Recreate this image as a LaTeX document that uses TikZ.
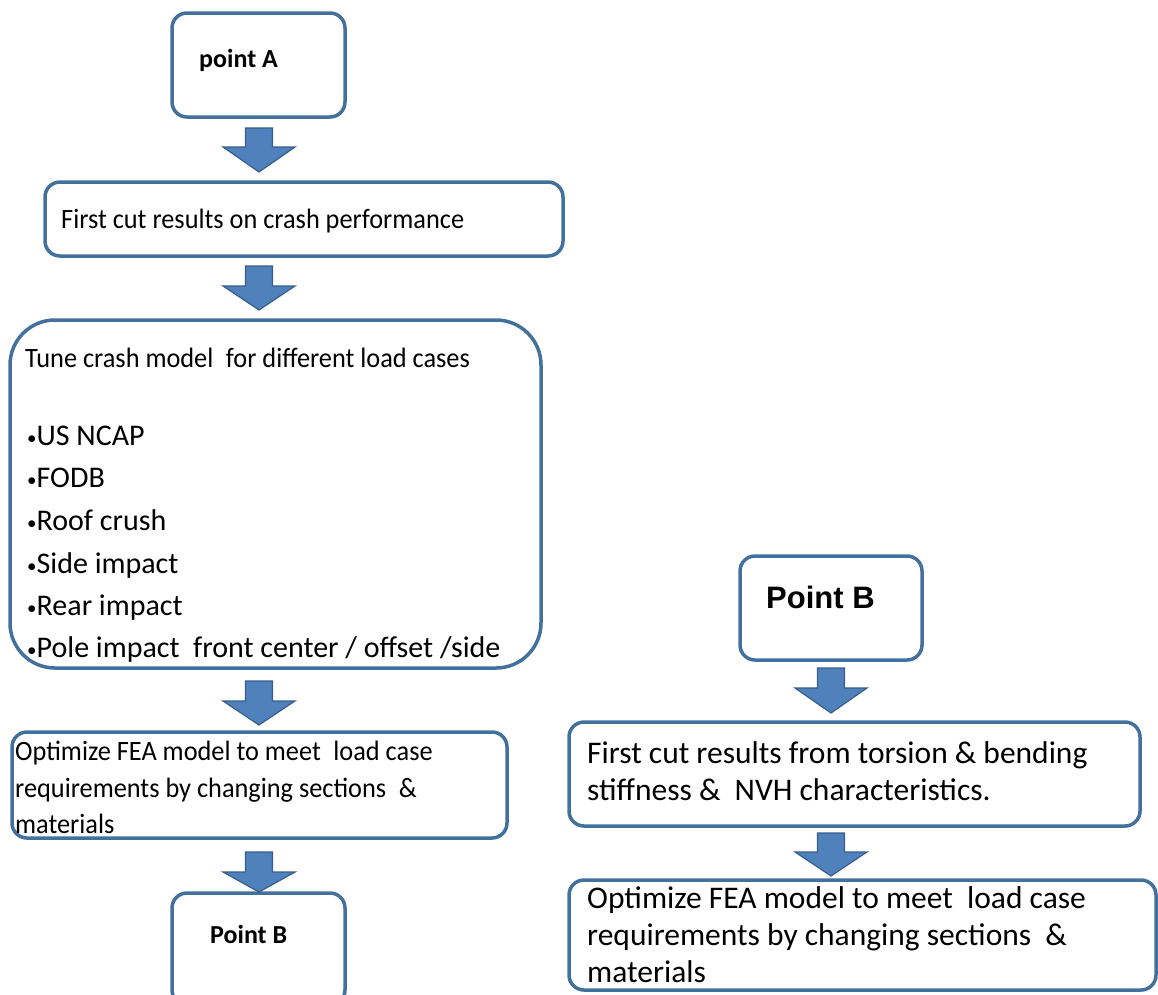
\documentclass[tikz,border=0pt]{standalone}
\usepackage{fontspec}
\setmainfont{Carlito}
\newfontfamily\cfn[FakeStretch=0.94]{Carlito}
\newfontfamily\cfw{Carlito}
\newfontfamily\arb{Liberation Sans}
\definecolor{boxline}{HTML}{41719C}
\definecolor{arrfill}{HTML}{4F81BD}
\definecolor{arrline}{HTML}{385D8A}
\newcommand{\smbul}{\raisebox{0.5pt}{\fontsize{19}{19}\selectfont•}}
\newcommand{\dsp}{\hspace{0.45em}}
\tikzset{
  box/.style={draw=boxline, line width=3.5pt, rounded corners=15pt, fill=white, inner sep=0pt},
  txt/.style={anchor=base west, inner sep=0pt, text=black},
  blockarr/.style={fill=arrfill, draw=arrline, line width=1.2pt, line join=miter}
}
\newcommand{\barrow}[4]{%
  \draw[blockarr] (#1-13.5,#2) -- (#1+13.5,#2) -- (#1+13.5,#3) -- (#1+36,#3) -- (#1,#4) -- (#1-36,#3) -- (#1-13.5,#3) -- cycle;}
\begin{document}
\begin{tikzpicture}[x=1pt,y=-1pt]
\useasboundingbox (0,0) rectangle (1158,994);
\clip (0,0) rectangle (1158,994);
% left column boxes
\node[box, minimum width=173pt, minimum height=104pt] (A) at (258.5,65) {};
\node[box, minimum width=518pt, minimum height=74pt] (B) at (304,219) {};
\node[box, rounded corners=45pt, minimum width=531pt, minimum height=348pt] (C) at (275.5,494) {};
\node[box, minimum width=495pt, minimum height=106pt] (D) at (259.5,785) {};
\node[box, minimum width=173pt, minimum height=112pt] (E) at (258.5,949) {};
% right column boxes
\node[box, minimum width=182pt, minimum height=104pt] (F) at (831,608) {};
\node[box, minimum width=571pt, minimum height=104pt] (G) at (854.5,774) {};
\node[box, minimum width=587pt, minimum height=110pt] (H) at (862.5,935) {};
% block arrows
\barrow{259}{128}{147}{172}
\barrow{259}{266}{286}{310}
\barrow{259}{681}{701}{725}
\barrow{259}{852}{872}{892}
\barrow{831}{668}{688}{713}
\barrow{831}{833}{852}{876}
% texts
\node[txt, font=\fontsize{26}{30}\selectfont\bfseries] (tA) at (199,67) {point A};
\node[txt, font=\cfn\fontsize{28}{34}\selectfont] (tB) at (61,228) {First cut results on crash performance};
\node[txt, font=\cfn\fontsize{28}{34}\selectfont] (tC0) at (25,367) {Tune crash model\dsp for different load cases};
\node[txt, font=\cfw\fontsize{30}{36}\selectfont] (tC1) at (27,445) {\smbul US NCAP};
\node[txt, font=\cfw\fontsize{30}{36}\selectfont] (tC2) at (27,487) {\smbul FODB};
\node[txt, font=\cfw\fontsize{30}{36}\selectfont] (tC3) at (27,530) {\smbul Roof crush};
\node[txt, font=\cfw\fontsize{30}{36}\selectfont] (tC4) at (27,573) {\smbul Side impact};
\node[txt, font=\cfw\fontsize{30}{36}\selectfont] (tC5) at (27,615) {\smbul Rear impact};
\node[txt, font=\cfw\fontsize{30}{36}\selectfont] (tC6) at (27,657) {\smbul Pole impact\dsp front center / offset /side};
\node[txt, font=\cfn\fontsize{28}{34}\selectfont] (tD1) at (15,760) {Optimize FEA model to meet\dsp load case};
\node[txt, font=\cfn\fontsize{28}{34}\selectfont] (tD2) at (15,797) {requirements by changing sections\dsp \&};
\node[txt, font=\cfn\fontsize{28}{34}\selectfont] (tD3) at (15,833) {materials};
\node[txt, font=\fontsize{26}{30}\selectfont\bfseries] (tE) at (210,943) {Point B};
\node[txt, font=\arb\fontsize{31}{36}\selectfont\bfseries] (tF) at (766,608) {Point B};
\node[txt, font=\cfw\fontsize{31.5}{37}\selectfont] (tG1) at (587,763) {First cut results from torsion \& bending};
\node[txt, font=\cfw\fontsize{31.5}{37}\selectfont] (tG2) at (587,800) {stiffness \&\dsp NVH characteristics.};
\node[txt, font=\cfw\fontsize{31.5}{37}\selectfont] (tH1) at (587,908) {Optimize FEA model to meet\dsp load case};
\node[txt, font=\cfw\fontsize{31.5}{37}\selectfont] (tH2) at (587,945) {requirements by changing sections\dsp \&};
\node[txt, font=\cfw\fontsize{31.5}{37}\selectfont] (tH3) at (587,982) {materials};
\end{tikzpicture}
\end{document}
